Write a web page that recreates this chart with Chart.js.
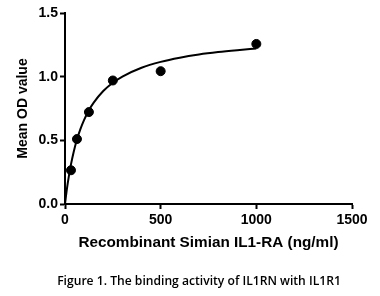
<!DOCTYPE html>
<html>
<head>
<meta charset="utf-8">
<script src="https://cdn.jsdelivr.net/npm/chart.js@4"></script>
<style>
  html, body { margin: 0; padding: 0; background: #fff; }
  #wrap { width: 380px; height: 296px; }
</style>
</head>
<body>
<div id="wrap"><canvas id="c" width="380" height="296"></canvas></div>
<script>
// Measured points
const concentrations = [31.25, 62.5, 125, 250, 500, 1000];
const meanOD = [0.265, 0.51, 0.722, 0.97, 1.043, 1.257];

// Fitted curve
const curveX = [0, 10, 20, 31.25, 45, 62.5, 80, 100, 125, 150, 200, 250, 300, 400, 500, 600, 700, 800, 900, 1000];
const curveY = [0, 0.118, 0.217, 0.311, 0.407, 0.506, 0.586, 0.661, 0.736, 0.796, 0.887, 0.952, 1.001, 1.070, 1.116, 1.149, 1.174, 1.193, 1.208, 1.221];

const xTicks = [0, 500, 1000, 1500];
const yTicks = [0, 0.5, 1.0, 1.5];

const xTitle = 'Recombinant Simian IL1-RA (ng/ml)';
const yTitle = 'Mean OD value';
const caption = 'Figure 1. The binding activity of IL1RN with IL1R1';

const pointData = concentrations.map((x, i) => ({ x: x, y: meanOD[i] }));
const curveData = curveX.map((x, i) => ({ x: x, y: curveY[i] }));

const axisFont = { family: 'Liberation Sans, Arial, sans-serif', size: 14, weight: 'bold' };

// Caption drawn below the chart, fitted to the reference width
const captionPlugin = {
  id: 'caption',
  afterDraw(chart) {
    const ctx = chart.ctx;
    ctx.save();
    let size = 12;
    ctx.font = '600 ' + size + 'px "Open Sans", sans-serif';
    const w = ctx.measureText(caption).width;
    size = size * 284 / w;
    ctx.font = '600 ' + size.toFixed(2) + 'px "Open Sans", sans-serif';
    ctx.fillStyle = '#000';
    ctx.textAlign = 'center';
    ctx.textBaseline = 'middle';
    ctx.fillText(caption, 199, 282);
    ctx.restore();
  }
};

new Chart(document.getElementById('c'), {
  type: 'scatter',
  data: {
    datasets: [
      {
        label: 'Fit',
        data: curveData,
        showLine: true,
        borderColor: '#000',
        borderWidth: 2,
        pointRadius: 0,
        tension: 0.4,
        cubicInterpolationMode: 'monotone',
        fill: false
      },
      {
        label: 'Mean OD',
        data: pointData,
        showLine: false,
        backgroundColor: '#000',
        borderColor: '#000',
        pointRadius: 4.5,
        pointHoverRadius: 4.5
      }
    ]
  },
  plugins: [captionPlugin],
  options: {
    responsive: false,
    animation: false,
    layout: { padding: { top: 13, right: 28, left: 0, bottom: 32 } },
    plugins: {
      legend: { display: false },
      tooltip: { enabled: false },
      title: { display: false }
    },
    scales: {
      x: {
        type: 'linear',
        min: 0,
        max: 1500,
        afterBuildTicks: (s) => { s.ticks = xTicks.map(v => ({ value: v })); },
        afterFit: (s) => { s.height = 60; },
        ticks: { color: '#000', font: axisFont, padding: 3, maxRotation: 0,
                 callback: (v) => String(v) },
        grid: { display: true, drawOnChartArea: false, tickLength: 5, tickWidth: 2, tickColor: '#000' },
        border: { display: true, color: '#000', width: 2 },
        title: { display: true, text: xTitle, color: '#000',
                 font: { family: 'Liberation Sans, Arial, sans-serif', size: 15.3, weight: 'bold' },
                 padding: { top: 0, bottom: 12 } }
      },
      y: {
        type: 'linear',
        min: 0,
        max: 1.5,
        afterBuildTicks: (s) => { s.ticks = yTicks.map(v => ({ value: v })); },
        afterFit: (s) => { s.width = 65; },
        ticks: { color: '#000', font: axisFont, padding: 2,
                 callback: (v) => Number(v).toFixed(1) },
        grid: { display: true, drawOnChartArea: false, tickLength: 5, tickWidth: 2, tickColor: '#000' },
        border: { display: true, color: '#000', width: 2 },
        title: { display: true, text: yTitle, color: '#000',
                 font: { family: 'Liberation Sans, Arial, sans-serif', size: 14, weight: 'bold' },
                 padding: { top: 15, bottom: 0 } }
      }
    }
  }
});
</script>
</body>
</html>
